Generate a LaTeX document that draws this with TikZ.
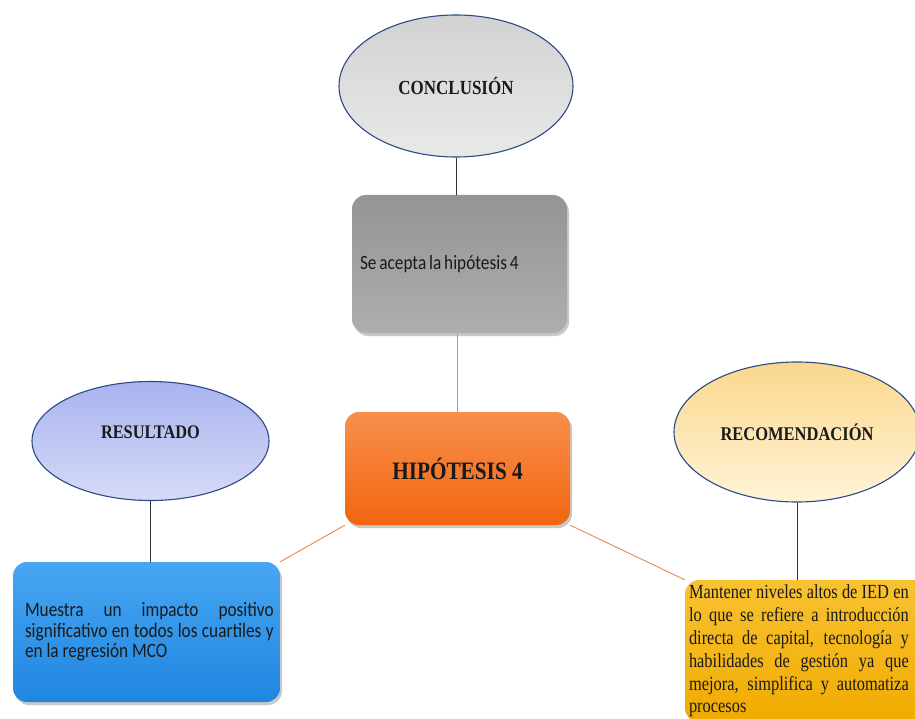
\documentclass[tikz,border=0pt]{standalone}
\usepackage{fontspec}
\setmainfont{Liberation Serif}
\newfontfamily\calib{Carlito}
\usepackage{graphicx}
\usetikzlibrary{shapes.geometric,shadows}
\definecolor{ellborder}{HTML}{2B4A86}
\definecolor{cgA}{HTML}{D2D2D2}
\definecolor{cgB}{HTML}{E9E9E9}
\definecolor{grA}{HTML}{949494}
\definecolor{grB}{HTML}{AEAEAE}
\definecolor{orA}{HTML}{F98F4C}
\definecolor{orB}{HTML}{F0660F}
\definecolor{blA}{HTML}{48A6F2}
\definecolor{blB}{HTML}{1F86E0}
\definecolor{yeA}{HTML}{F8C232}
\definecolor{yeB}{HTML}{F1AB00}
\definecolor{reA}{HTML}{A9B3EE}
\definecolor{reB}{HTML}{D6DBF8}
\definecolor{rcA}{HTML}{FBD78C}
\definecolor{rcB}{HTML}{FFF3D8}
\definecolor{linkorange}{HTML}{E9894D}
\definecolor{txt}{HTML}{1A1A1A}
\newcommand{\sq}[2][0.85]{\scalebox{#1}[1]{#2}}
\newcommand{\justif}{\rightskip=0pt\leftskip=0pt\spaceskip=0pt\xspaceskip=0pt\parfillskip=0pt plus 1fil\hyphenpenalty=10000\relax}
\begin{document}
\begin{tikzpicture}[x=1pt,y=-1pt,
  oval/.style={ellipse, draw=ellborder, line width=1.1pt, inner sep=0pt, text=txt},
  card/.style={rounded corners=14pt, inner sep=0pt, text=txt,
    drop shadow={shadow xshift=2pt, shadow yshift=-3pt, opacity=0.3, fill=black!70}},
  blk/.style={draw=black!80, line width=0.9pt},
  org/.style={draw=linkorange, line width=0.9pt}]
\useasboundingbox (0,0) rectangle (915,719);
\fill[white] (0,0) rectangle (915,719);
\clip (0,0) rectangle (915,719);

% ellipses
\node[oval, font=\bfseries\fontsize{20}{23}\selectfont, minimum width=234pt, minimum height=142pt,
      top color=cgA, bottom color=cgB] (concl) at (456,86) {\sq{CONCLUSIÓN}};
\node[oval, font=\bfseries\fontsize{19.2}{22}\selectfont, minimum width=237pt, minimum height=119pt,
      top color=reA, bottom color=reB] (res) at (150.5,441) {\raisebox{17pt}{\sq{RESULTADO}}};
\node[oval, font=\bfseries\fontsize{19.4}{22}\selectfont, minimum width=246pt, minimum height=140pt,
      top color=rcA, bottom color=rcB] (rec) at (797,432) {\sq{RECOMENDACIÓN}};

% boxes
\node[card, minimum width=215pt, minimum height=138pt, inner xsep=8pt,
      text width=199pt, align=left, top color=grA, bottom color=grB]
  (gray) at (459.5,264) {\calib\fontsize{20.3}{23}\selectfont\sq{Se acepta la hipótesis 4}};
\node[card, minimum width=225pt, minimum height=113pt,
      top color=orA, bottom color=orB, font=\bfseries\fontsize{25}{28}\selectfont]
  (hip) at (457.5,468.5) {\sq{HIPÓTESIS 4}};
\node[card, minimum width=267pt, minimum height=140pt, inner xsep=12pt,
      text width=243pt, align=left, top color=blA, bottom color=blB]
  (blue) at (146.5,632) {\sq[0.84]{\parbox{296pt}{\calib\fontsize{20.5}{20.5}\selectfont\justif
    Muestra un impacto positivo\linebreak significativo en todos los cuartiles y\linebreak en la regresión MCO}}};
\node[card, minimum width=255pt, minimum height=142pt, inner xsep=4pt,
      text width=247pt, align=left, top color=yeA, bottom color=yeB]
  (yel) at (812.5,651) {\sq[0.82]{\parbox{268pt}{\fontsize{20}{22.8}\selectfont\justif
    Mantener niveles altos de IED en\linebreak lo que se refiere a introducción\linebreak directa de capital, tecnología y\linebreak habilidades de gestión ya que\linebreak mejora, simplifica y automatiza\linebreak procesos}}};

% connectors
\draw[blk] (concl.south) -- (concl.south |- gray.north);
\draw[blk] (res.south) -- (res.south |- blue.north);
\draw[blk] (rec.south) -- (rec.south |- yel.north);
\draw[org] (hip.north |- gray.south) -- (hip.north);
\draw[org] (hip.south west) -- (blue.north east);
\draw[org] (hip.south east) -- (yel.north west);
\end{tikzpicture}
\end{document}
